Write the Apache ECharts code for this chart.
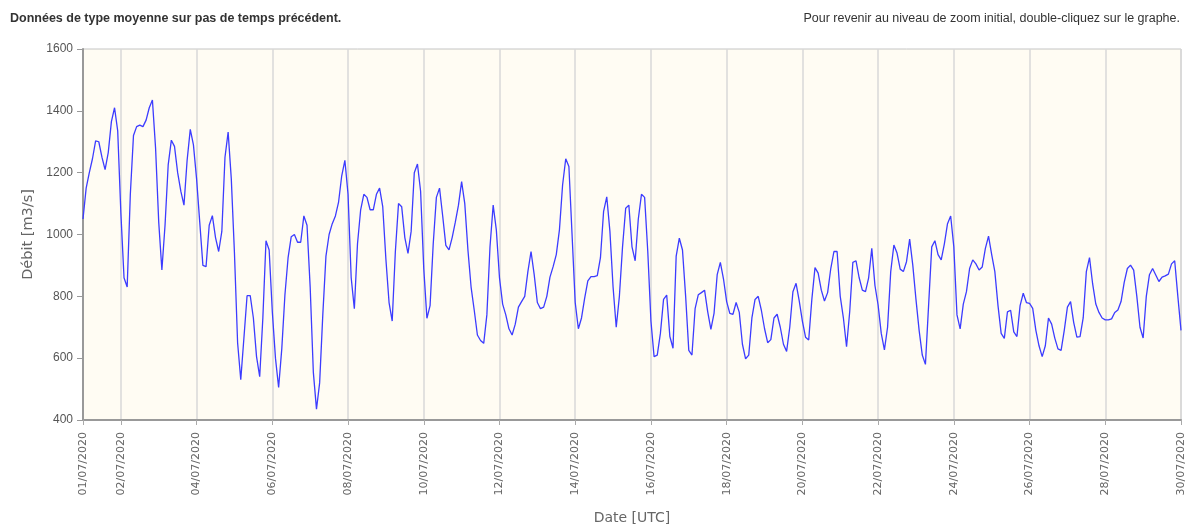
<!DOCTYPE html>
<html>
<head>
<meta charset="utf-8">
<script src="https://cdn.jsdelivr.net/npm/echarts@6/dist/echarts.min.js"></script>
<style>
html, body { margin: 0; padding: 0; background: #fff; }
#chart { width: 1196px; height: 527px; }
</style>
</head>
<body>
<div id="chart"></div>
<script>
// débit toutes les 2 heures, du 01/07/2020 00:00 au 30/07/2020 00:00 (une ligne par jour)
var debit = [
    1050, 1150, 1200, 1245, 1303, 1300, 1250, 1210, 1265, 1365, 1410, 1335,
    1070, 860, 830, 1130, 1320, 1349, 1354, 1349, 1370, 1410, 1435, 1280,
    1040, 885, 1030, 1225, 1305, 1285, 1200, 1140, 1095, 1240, 1340, 1290,
    1180, 1040, 900, 896, 1030, 1061, 990, 945, 1010, 1250, 1331, 1180,
    940, 650, 530, 665, 802, 802, 730, 605, 540, 730, 980, 950,
    750, 600, 505, 630, 805, 925, 993, 1000, 975, 975, 1060, 1030,
    830, 555, 435, 520, 740, 930, 1000, 1035, 1060, 1105, 1190, 1240,
    1130, 860, 760, 970, 1080, 1130, 1120, 1080, 1080, 1130, 1150, 1090,
    920, 780, 720, 945, 1100, 1090, 990, 939, 1010, 1200, 1228, 1140,
    890, 729, 770, 970, 1120, 1150, 1060, 965, 950, 990, 1040, 1095,
    1171, 1100, 950, 830, 755, 675, 657, 648, 740, 961, 1095, 1015,
    860, 775, 740, 695, 675, 710, 765, 783, 800, 880, 945, 870,
    780, 760, 765, 800, 862, 896, 935, 1015, 1160, 1245, 1220, 1000,
    780, 695, 730, 794, 850, 864, 864, 867, 925, 1075, 1122, 1010,
    830, 700, 800, 960, 1085, 1095, 960, 915, 1050, 1130, 1120, 945,
    720, 605, 610, 680, 790, 804, 670, 632, 930, 988, 950, 800,
    625, 610, 760, 805, 812, 820, 750, 693, 745, 870, 910, 856,
    783, 745, 742, 780, 748, 645, 598, 610, 730, 790, 800, 755,
    696, 650, 660, 730, 742, 700, 645, 622, 700, 815, 842, 785,
    720, 668, 659, 790, 893, 875, 820, 785, 812, 890, 945, 945,
    800, 730, 637, 750, 910, 915, 860, 820, 815, 860, 955, 835,
    772, 680, 627, 700, 880, 966, 940, 888, 880, 912, 985, 900,
    790, 690, 610, 580, 770, 960, 980, 935, 918, 970, 1035, 1060,
    960, 740, 695, 775, 815, 890, 918, 905, 885, 895, 955, 995,
    935, 880, 770, 680, 664, 750, 755, 685, 670, 770, 810, 780,
    777, 761, 690, 640, 605, 640, 730, 710, 665, 630, 625, 690,
    765, 783, 715, 668, 670, 730, 880, 925, 840, 775, 748, 730,
    724, 724, 727, 748, 756, 783, 845, 890, 901, 885, 800, 700,
    665, 800, 870, 890, 869, 848, 862, 866, 872, 905, 915, 800,
    690
]
var startTime = Date.UTC(2020, 6, 1)
var stepHours = 2
var yTicks = {min: 400, max: 1600, interval: 200}

function pad(n) {
    return n < 10 ? '0' + n : '' + n
}

var dates = []
for (var i = 0; i < debit.length; i++) {
    var d = new Date(startTime + i * stepHours * 3600 * 1000)
    dates.push(pad(d.getUTCDate()) + '/' + pad(d.getUTCMonth() + 1) + '/' + d.getUTCFullYear() + ' ' + pad(d.getUTCHours()) + ':00')
}

// repères : le 01/07 puis tous les deux jours à partir du 02/07
function isMark(index) {
    return index === 0 || (index - 12) % 24 === 0
}

var option = {
    animation: false,
    title: [{
        text: 'Données de type moyenne sur pas de temps précédent.',
        left: 5,
        top: 7,
        textStyle: {
            fontFamily: 'Liberation Sans',
            fontSize: 12.5,
            fontWeight: 'bold',
            color: '#333'
        }
    }, {
        text: 'Pour revenir au niveau de zoom initial, double-cliquez sur le graphe.',
        right: 11,
        top: 7,
        textStyle: {
            fontFamily: 'Liberation Sans',
            fontSize: 12.5,
            fontWeight: 'normal',
            color: '#333'
        }
    }],
    grid: {
        left: 83,
        right: 15,
        top: 49,
        bottom: 107,
        outerBoundsMode: 'none',
        show: true,
        backgroundColor: '#fffcf3',
        borderColor: '#c4c4c4',
        borderWidth: 1
    },
    xAxis: {
        type: 'category',
        data: dates,
        boundaryGap: false,
        name: 'Date [UTC]',
        nameLocation: 'middle',
        nameGap: 91,
        nameTextStyle: {
            fontFamily: 'DejaVu Sans',
            fontSize: 14,
            color: '#666'
        },
        axisLine: {lineStyle: {color: '#999', width: 2}},
        axisTick: {show: true, interval: isMark, length: 5, lineStyle: {color: '#aaa'}},
        axisLabel: {
            interval: isMark,
            rotate: 90,
            margin: 12,
            fontFamily: 'DejaVu Sans',
            fontSize: 11,
            color: '#666',
            formatter: function (value) {
                return value.split(' ')[0]
            }
        },
        splitLine: {show: true, interval: isMark, lineStyle: {color: '#d8d8d8', width: 1.5}}
    },
    yAxis: {
        type: 'value',
        min: yTicks.min,
        max: yTicks.max,
        interval: yTicks.interval,
        name: 'Débit [m3/s]',
        nameLocation: 'middle',
        nameGap: 47,
        nameTextStyle: {
            fontFamily: 'DejaVu Sans',
            fontSize: 14.5,
            color: '#666'
        },
        axisLine: {show: true, lineStyle: {color: '#999', width: 2}},
        axisTick: {show: true, length: 6, lineStyle: {color: '#999'}},
        axisLabel: {
            margin: 10,
            fontFamily: 'Liberation Sans',
            fontSize: 12,
            color: '#555',
            formatter: function (value) {
                return String(value)
            }
        },
        splitLine: {show: false}
    },
    series: [{
        name: 'Débit',
        type: 'line',
        data: debit,
        showSymbol: false,
        lineStyle: {color: '#3c3cff', width: 1.3},
        itemStyle: {color: '#3c3cff'}
    }]
}

var myChart = echarts.init(document.getElementById('chart'))
myChart.setOption(option)
</script>
</body>
</html>
